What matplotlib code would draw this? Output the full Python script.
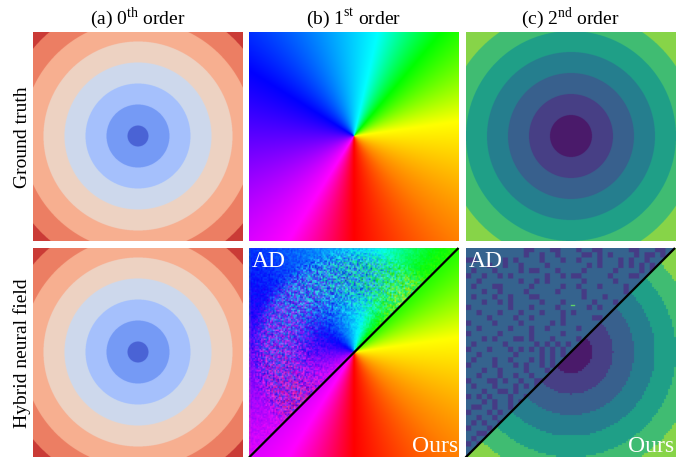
import numpy as np
import matplotlib
matplotlib.use("Agg")
import matplotlib.pyplot as plt
from matplotlib.colors import hsv_to_rgb, to_rgb

plt.rcParams['font.family'] = ['Liberation Serif', 'DejaVu Serif']
plt.rcParams['mathtext.fontset'] = 'custom'
plt.rcParams['mathtext.rm'] = 'Liberation Serif'

# ---- content ----
column_titles = ["(a) 0$^{\\mathrm{th}}$ order", "(b) 1$^{\\mathrm{st}}$ order", "(c) 2$^{\\mathrm{nd}}$ order"]
row_titles = ["Ground truth", "Hybrid neural field"]
split_labels = ["AD", "Ours"]

radii_0th = [0.1, 0.3, 0.5, 0.7, 0.9, 1.1, 1.3]
colors_0th = ["#4a63d6", "#759af5", "#a5c0fd", "#cdd9ec", "#edd2c3", "#f7af91", "#ec7f63", "#ca3b37"]

radii_2nd = [0.2, 0.4, 0.6, 0.8, 1.0, 1.2]
colors_2nd = ["#4a1a6a", "#473f85", "#38608d", "#267e8e", "#1f9f88", "#40bd72", "#88d548"]

angle_anchors = [-90, -45, 8, 50, 77, 148, 238, 270]
hue_anchors = [0, 30, 60, 120, 180, 240, 300, 360]

ad_light = "#35638e"
ad_dark = "#463c86"
ad_speck = {"x": 0.025, "y": 0.46, "color": "#5fd06a"}

# Dark blocks of the AD half of the 2nd-order panel, copied by eye, 40x40 cells
ad_mask = [
    "...........##...##...#..##.....##...##..",
    "...........#..#..#....##.#.#....#.##.#..",
    "##.....#.#....#...#..#...#...#.#..#...#.",
    "....#..#..#....#.......#.#...#.#.#.#....",
    ".#...#....#.##...#....#.....#....#.#....",
    "#..#..#.#......#..#.##.....#...##.......",
    "..#.......#..#.#......#.....#......#....",
    ".#...##.....#.....#..#...#....#...#.....",
    "...#..#....#.....#....#.......#..#......",
    ".#...#..#...##........#...#....#........",
    "...#..#.#.....#...#.....#...#....#......",
    "#.......#...#....#.....#.#.....#........",
    "..#...#...#...#...#.#.......#...........",
    "....#....#..#.....#.....##..............",
    "#....#....#.....#.#........#............",
    "..#.....#...#..#.....#.....#............",
    "#.....#.....#.....#.....................",
    "...#.#...##.#...#....#..................",
    ".#.....#.....#.#.#.#....................",
    "#...#...#.#.#.#.#.#.....................",
    "..#......#....#.#.#.....................",
    ".#...#..#...#.#.#.......................",
    "#....#...#.#..#.#.......................",
    "...#..#....#...#........................",
    "..#...#..#..#...........................",
    "#...##.#..#..##.........................",
    ".#...#...#.#.#..........................",
    "...#..##.#..............................",
    "#.#.#...#..#............................",
    "...#.#..#.#.............................",
    ".##..#..#.#.............................",
    "#...#.#..#..............................",
    "..#..#..#...............................",
    ".#.#..#.................................",
    "#...#..#................................",
    "..##.#..................................",
    ".#...#..................................",
    "#.#.....................................",
    "..#.....................................",
    ".#......................................",
]

# Hand-typed speckle tiles standing in for the per-pixel AD noise of the 1st-order panel
speckle_hue = [
    "2906417385164",
    "7152938046273",
    "4830265791508",
    "9261704853926",
    "0647392118475",
    "5319860427631",
    "8074125963089",
    "3592748016254",
    "6180937542718",
    "1745206389460",
    "9428613075392",
    "0367594281846",
    "7513840692105",
]
speckle_sat = [
    "19375820461",
    "63028194757",
    "40716952382",
    "85291360474",
    "27640518936",
    "71953024689",
    "38416790251",
    "92057483160",
    "04682971535",
    "56130847929",
    "13794625008",
]
noise_radius = [0.0, 0.12, 0.35, 0.65, 0.85, 1.0, 1.5]
noise_level = [0.0, 0.02, 0.10, 0.40, 0.36, 0.07, 0.03]

# ---- layout in reference pixels ----
W, H = 681, 457
col_left = [33, 249, 465.5]
row_top = [32, 248]
side = 209.5


def grid(n):
    c = (np.arange(n) + 0.5) / n * 2 - 1
    return np.meshgrid(c, -c)


def hue_image(n):
    x, y = grid(n)
    a = np.degrees(np.arctan2(y, x))
    a = np.where(a < -90, a + 360, a)
    return np.interp(a, angle_anchors, hue_anchors) / 360.0


def first_order(n):
    h = hue_image(n)
    return hsv_to_rgb(np.dstack([h, np.ones_like(h), np.ones_like(h)]))


def first_order_ad(n):
    h = hue_image(n)
    x, y = grid(n)
    r = np.hypot(x, y)
    lvl = np.interp(r, noise_radius, noise_level)
    th = np.array([[int(c) for c in s] for s in speckle_hue]) / 9.0 - 0.5
    ts = np.array([[int(c) for c in s] for s in speckle_sat]) / 9.0
    i, j = np.indices((n, n))
    a = th[(i + j // 5) % 13, (j + i // 7) % 13]
    b = ts[(i + j // 3) % 11, (j + i // 2) % 11]
    hue = (h + lvl * a * 0.75) % 1.0
    sat = 1 - lvl * 0.70 * b
    val = 1 - lvl * 0.35 * (1 - b)
    rgb = hsv_to_rgb(np.dstack([hue, sat, val]))
    return (4 * rgb + np.roll(rgb, 1, 0) + np.roll(rgb, 1, 1)) / 6


def bands(n, radii, colors):
    x, y = grid(n)
    idx = np.digitize(np.hypot(x, y), radii)
    table = np.array([to_rgb(c) for c in colors])
    return table[idx]


def second_order_ad(n):
    m = np.array([[c == "#" for c in s] for s in ad_mask])
    k = n // m.shape[0]
    m = np.kron(m, np.ones((k, k), dtype=bool))
    out = np.empty((n, n, 3))
    out[:] = to_rgb(ad_light)
    out[m] = to_rgb(ad_dark)
    return out


def upscale(img, k):
    return np.kron(img, np.ones((k, k, 1)))


def split(ad, ours):
    n = ad.shape[0]
    x, y = grid(n)
    return np.where((y > x)[..., None], ad, ours)


fig = plt.figure(figsize=(W / 100, H / 100), dpi=100)
axes = [[fig.add_axes([l / W, 1 - (t + side) / H, side / W, side / H]) for l in col_left] for t in row_top]

images = [
    [bands(840, radii_0th, colors_0th), first_order(840), bands(840, radii_2nd, colors_2nd)],
    [bands(840, radii_0th, colors_0th),
     split(upscale(first_order_ad(140), 6), first_order(840)),
     split(second_order_ad(840), upscale(bands(105, radii_2nd, colors_2nd), 8))],
]

for r, row in enumerate(axes):
    for c, ax in enumerate(row):
        ax.imshow(images[r][c], extent=[-1, 1, -1, 1], interpolation="antialiased", aspect="auto")
        ax.set_xlim(-1, 1)
        ax.set_ylim(-1, 1)
        ax.axis("off")
    row[0].text(-0.05, 0.5, row_titles[r], transform=row[0].transAxes, rotation=90,
                ha="center", va="center", fontsize=14)

for c, ax in enumerate(axes[0]):
    ax.text(0.5, 1.004, column_titles[c], transform=ax.transAxes, ha="center", va="bottom", fontsize=14)

for ax in axes[1][1:]:
    ax.plot([-1, 1], [-1, 1], color="black", lw=1.6, solid_capstyle="butt", clip_on=False)
    ax.text(0.015, 0.985, split_labels[0], transform=ax.transAxes, color="white", ha="left", va="top", fontsize=17)
    ax.text(0.998, 0.0, split_labels[1], transform=ax.transAxes, color="white", ha="right", va="bottom", fontsize=17)

axes[1][2].plot([ad_speck["x"] - 0.015, ad_speck["x"] + 0.015], [ad_speck["y"]] * 2,
                color=ad_speck["color"], lw=1.0)

fig.savefig("out.png", dpi=100)
